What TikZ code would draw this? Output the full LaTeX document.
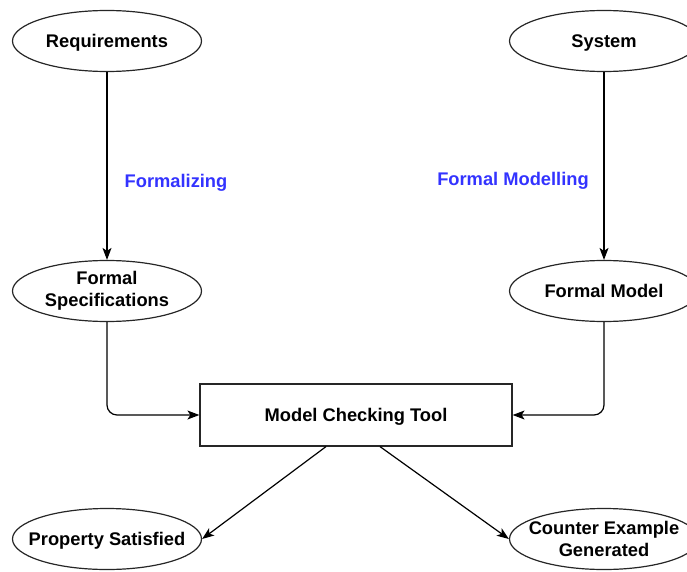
\documentclass[tikz,border=0pt]{standalone}
\usepackage{fontspec}
\setmainfont{Liberation Sans}
\usetikzlibrary{shapes.geometric,arrows.meta}
\definecolor{lblblue}{HTML}{3333FF}
\begin{document}
\begin{tikzpicture}[x=1pt,y=-1pt,
  every node/.style={font=\fontsize{18.3}{21.5}\selectfont\bfseries},
  oneline/.style={text height=13.2pt,text depth=0pt},
  oval/.style={ellipse,draw=black!85,line width=1.2pt,minimum width=189pt,minimum height=61pt,inner xsep=-30pt,inner ysep=0pt,fill=white},
  twoline/.style={align=center},
  toolbox/.style={rectangle,draw=black!85,line width=1.2pt,minimum width=312pt,minimum height=62pt,inner sep=0pt},
  conn/.style={line width=1.2pt,-{Stealth[length=12pt,width=9pt,inset=3pt]}},
  lbl/.style={text=lblblue}]
\useasboundingbox (0,0) rectangle (687,572);
\clip (0,0) rectangle (687,572);
\node[oval,oneline] (req) at (107,41) {Requirements};
\node[oval,oneline] (sys) at (604,41) {System};
\node[oval,twoline] (spec) at (107,291) {Formal\\Specifications};
\node[oval,oneline] (model) at (604,291) {Formal Model};
\node[toolbox,oneline] (tool) at (356,415) {Model Checking Tool};
\node[oval,oneline] (prop) at (107,539) {Property Satisfied};
\node[oval,twoline] (cex) at (604,539) {Counter Example\\Generated};
\node[lbl,oneline] (f1) at (176,181) {Formalizing};
\node[lbl,oneline] (f2) at (513,179) {Formal Modelling};
\draw[conn] (req) -- (spec);
\draw[conn] (sys) -- (model);
\draw[conn,rounded corners=10pt] (spec.south) |- (tool.west);
\draw[conn,rounded corners=10pt] (model.south) |- (tool.east);
\draw[conn] ([xshift=-30pt]tool.south) -- (prop.east);
\draw[conn] ([xshift=24pt]tool.south) -- (cex.west);
\end{tikzpicture}
\end{document}
